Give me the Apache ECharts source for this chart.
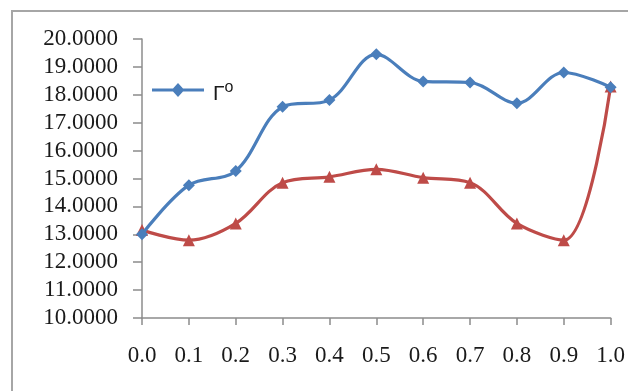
<!DOCTYPE html>
<html>
<head>
<meta charset="utf-8">
<script src="https://cdn.jsdelivr.net/npm/echarts@6/dist/echarts.min.js"></script>
<style>
  html, body { margin: 0; padding: 0; background: #fff; }
  #chart { width: 628px; height: 391px; }
</style>
</head>
<body>
<div id="chart"></div>
<script>
// Mole-fraction steps along the x axis
const categories = ['0.0', '0.1', '0.2', '0.3', '0.4', '0.5', '0.6', '0.7', '0.8', '0.9', '1.0'];

// Surface excess series (shown in the legend as Γ⁰)
const gammaValues = [13.0, 14.76, 15.27, 17.57, 17.81, 19.45, 18.48, 18.44, 17.70, 18.80, 18.27];

// Second series, drawn without a legend entry
const secondValues = [13.15, 12.79, 13.39, 14.85, 15.06, 15.33, 15.03, 14.85, 13.39, 12.79, 18.30];

// Value-axis range
const yMin = 10, yMax = 20, yStep = 1;

const serif = '"Liberation Serif", "Times New Roman", serif';
const sans = 'Arial, "Liberation Sans", sans-serif';
const axisGray = '#8c8c8c';

// Legend key: a thick line segment with a diamond in the middle
const lineDiamondIcon = 'path://M0,5.4H21L26,0L31,5.4H52V8.6H31L26,14L21,8.6H0Z';

const chart = echarts.init(document.getElementById('chart'), null, { renderer: 'canvas' });

chart.setOption({
  animation: false,
  backgroundColor: '#ffffff',
  graphic: [{
    type: 'rect',
    shape: { x: 12, y: 11, width: 700, height: 500 },
    style: { fill: 'none', stroke: '#a6a6a6', lineWidth: 2 },
    z: -1
  }],
  grid: { left: 142, top: 39, right: 17, bottom: 73 },
  legend: {
    show: true,
    data: [{ name: 'gamma', icon: lineDiamondIcon }],
    orient: 'vertical',
    left: 152, top: 80,
    padding: 0,
    itemWidth: 52, itemHeight: 14,
    itemGap: 8,
    formatter: () => '{g|Γ}{o|o}',
    textStyle: {
      color: '#1a1a1a',
      fontFamily: sans,
      fontSize: 21,
      padding: [0, 0, 0, 4],
      rich: {
        g: { fontFamily: sans, fontSize: 21, color: '#1a1a1a', padding: [8, 0, 0, 0] },
        o: { fontFamily: sans, fontSize: 16, color: '#1a1a1a', padding: [0, 0, 4, 0] }
      }
    }
  },
  xAxis: {
    type: 'category',
    data: categories,
    boundaryGap: false,
    axisLine: { lineStyle: { color: axisGray, width: 1.5 } },
    axisTick: { alignWithLabel: true, length: 7, lineStyle: { color: axisGray, width: 1.5 } },
    axisLabel: { margin: 26, fontFamily: serif, fontSize: 23, color: '#1a1a1a' },
    splitLine: { show: false }
  },
  yAxis: {
    type: 'value',
    min: yMin, max: yMax, interval: yStep,
    axisLine: { show: true, lineStyle: { color: axisGray, width: 1.5 } },
    axisTick: { show: true, length: 9, lineStyle: { color: axisGray, width: 1.5 } },
    axisLabel: {
      margin: 24, fontFamily: serif, fontSize: 23, color: '#1a1a1a',
      formatter: v => v.toFixed(4)
    },
    splitLine: { show: false }
  },
  series: [
    {
      name: 'gamma',
      type: 'line',
      data: gammaValues,
      smooth: 0.35,
      symbol: 'diamond',
      symbolSize: 12,
      lineStyle: { color: '#4a7ebb', width: 3.2 },
      itemStyle: { color: '#4a7ebb' },
      z: 3
    },
    {
      name: 'second',
      type: 'line',
      data: secondValues,
      smooth: 0.35,
      symbol: 'triangle',
      symbolSize: 12,
      lineStyle: { color: '#be4b48', width: 3.2 },
      itemStyle: { color: '#be4b48' },
      z: 2
    }
  ]
});
</script>
</body>
</html>
